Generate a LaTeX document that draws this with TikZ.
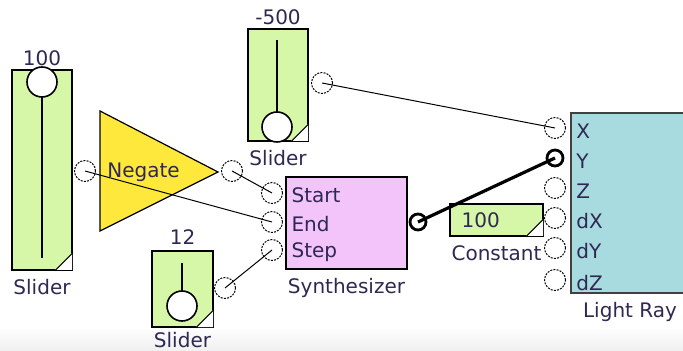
\documentclass[tikz,border=0pt]{standalone}
\usepackage{fontspec}
\setmainfont{DejaVu Sans}
\usetikzlibrary{positioning}
\definecolor{slgreen}{HTML}{D6F7A8}
\definecolor{negyellow}{HTML}{FFE83C}
\definecolor{synpink}{HTML}{F2C4FA}
\definecolor{raycyan}{HTML}{A8DBE0}
\definecolor{lbltext}{HTML}{2E2852}

\begin{document}
\begin{tikzpicture}[
        x=0.5pt, y=-0.5pt,
        font=\fontsize{10}{12}\selectfont,
        every node/.style={text=lbltext},
        slider/.style ={draw, line width=0.8pt, fill=slgreen, inner sep=0pt},
        knob/.style   ={draw, line width=0.8pt, fill=white, circle,
                        minimum size=15pt, inner sep=0pt},
        box/.style    ={draw, line width=0.8pt, inner sep=0pt},
        port/.style   ={draw, circle, dash pattern=on 1pt off 0.6pt,
                        line width=0.5pt, minimum size=10.5pt, inner sep=0pt},
        bport/.style  ={draw, circle, line width=1.4pt, minimum size=8pt, inner sep=0pt},
        wire/.style   ={line width=0.5pt},
        bwire/.style  ={line width=1.6pt},
        tag/.style    ={inner sep=1pt},
        plbl/.style   ={inner sep=1pt, anchor=west},
    ]
    \useasboundingbox (0,0) rectangle (683,351);
    \clip (0,0) rectangle (683,351);
    \shade[top color=white, bottom color=gray!12] (0,326) rectangle (683,351);

    % ===================== Sliders =====================
    \node[slider, minimum width=30pt, minimum height=100pt] (s1) at (42,170) {};
    \node[slider, minimum width=30pt, minimum height=56pt]  (s2) at (278,85) {};
    \node[slider, minimum width=30.5pt, minimum height=38pt] (s3) at (182.5,289) {};

    \draw[line width=0.8pt] (42,82) -- (42,258);
    \draw[line width=0.8pt] (277,40) -- (277,127);
    \draw[line width=0.8pt] (182,263) -- (182,306);
    \node[knob] (k1) at (42,82) {};
    \node[knob] (k2) at (277,127) {};
    \node[knob] (k3) at (182,306) {};

    \node[tag, above=0.5pt of s1] {100};
    \node[tag, above=0.5pt of s2] {-500};
    \node[tag, above=1.5pt of s3] {12};
    \node[tag, below=3pt of s1] {Slider};
    \node[tag, below=3pt of s2] {Slider};
    \node[tag, below=1.2pt of s3] {Slider};

    % ===================== Negate =====================
    \draw[fill=negyellow, line width=0.6pt] (100,111) -- (218,172) -- (100,231) -- cycle;
    \node[tag, anchor=west] (neg) at (105,172) {Negate};

    % ===================== Synthesizer / Constant / Light Ray =====================
    \node[box, fill=synpink, minimum width=60.5pt, minimum height=46pt] (syn) at (346.5,223) {};
    \node[tag, below=3pt of syn] {Synthesizer};

    \node[box, fill=slgreen, minimum width=46.5pt, minimum height=16pt] (cst) at (496.5,220) {};
    \node[tag, anchor=west] at ([xshift=5pt]cst.west) {100};
    \node[tag, below=3pt of cst] {Constant};

    \node[draw=black!75, line width=1pt, fill=raycyan, inner sep=0pt,
          minimum width=59pt, minimum height=90pt] (ray) at (630,203) {};
    \node[tag, below=3pt of ray] {Light Ray};

    % corner marks
    \foreach \b in {s1,s2,s3,cst}{
        \fill[white] ([xshift=-9pt,yshift=0.4pt]\b.south east) -- ([xshift=-0.4pt,yshift=0.4pt]\b.south east)
            -- ([xshift=-0.4pt,yshift=9pt]\b.south east) -- cycle;
        \draw[line width=0.5pt] ([xshift=-9pt]\b.south east) -- ([yshift=9pt]\b.south east);
    }

    % ===================== Ports =====================
    \node[port] (s1out) at (85,171) {};
    \node[port] (s2out) at (322,83) {};
    \node[port] (s3out) at (225,288) {};
    \node[port] (negout) at (232,171) {};
    \node[port] (startin) at (272,193) {};
    \node[port] (endin) at (272,222) {};
    \node[port] (stepin) at (272,250) {};
    \node[bport] (synout) at (418,222) {};
    \node[bport] (yin) at (555,158) {};
    \foreach \n/\y in {xin/128, zin/188, dxin/218, dyin/248, dzin/280}{
        \node[port] (\n) at (555,\y) {};
    }

    \foreach \n/\t in {startin/Start, endin/End, stepin/Step}{
        \node[plbl] at ([xshift=2pt,yshift=-1pt]syn.west |- \n) {\t};
    }
    \foreach \n/\t in {xin/X, yin/Y, zin/Z, dxin/dX, dyin/dY, dzin/dZ}{
        \node[plbl] at ([xshift=2pt,yshift=-1.5pt]ray.west |- \n) {\t};
    }

    % ===================== Wires =====================
    \draw[wire] (s2out.center) -- (xin.center);
    \draw[wire] (s1out.center) -- (endin.center);
    \draw[wire] (negout.center) -- (startin.center);
    \draw[wire] (s3out.center) -- (stepin.center);
    \draw[bwire] (synout.center) -- (yin.center);
\end{tikzpicture}
\end{document}
